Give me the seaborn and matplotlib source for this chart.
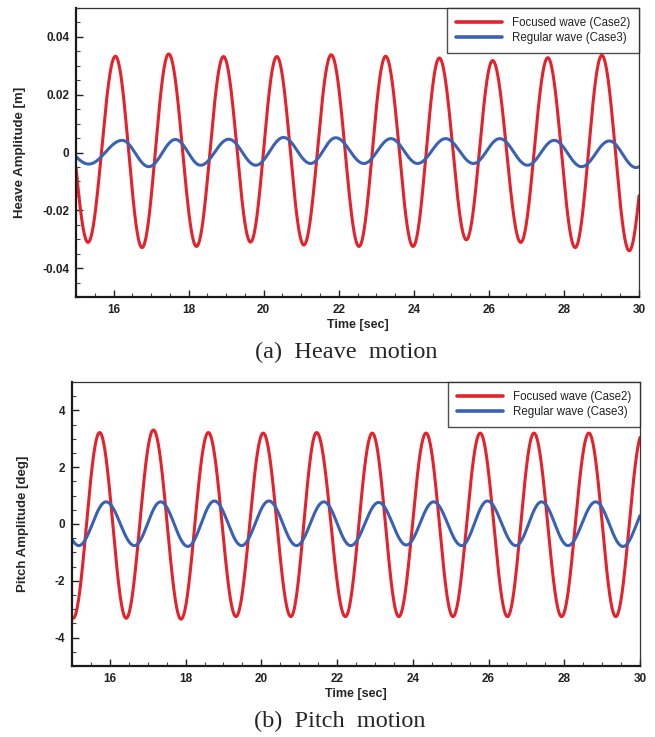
import numpy as np
import pandas as pd
import matplotlib
matplotlib.use("Agg")
import matplotlib.pyplot as plt
import seaborn as sns
from matplotlib.ticker import MultipleLocator, FuncFormatter

# ---------------- data: extrema ----------------
# Heave (a)
heave_focused_t = [15.32, 16.05, 16.76, 17.47, 18.21, 18.93, 19.65, 20.35, 21.07, 21.80,
                   22.54, 23.25, 23.98, 24.68, 25.40, 26.10, 26.85, 27.57, 28.30, 29.01, 29.74]
heave_focused_v = [-0.0311, 0.0333, -0.0329, 0.0341, -0.0325, 0.0332, -0.0310, 0.0332, -0.0320, 0.0338,
                   -0.0325, 0.0333, -0.0325, 0.0327, -0.0302, 0.0318, -0.0311, 0.0328, -0.0329, 0.0336, -0.0340]
heave_regular_t = [15.34, 16.23, 16.94, 17.65, 18.32, 19.07, 19.79, 20.53, 21.25, 21.92,
                   22.67, 23.39, 24.10, 24.85, 25.59, 26.29, 27.03, 27.74, 28.47, 29.21, 29.92]
heave_regular_v = [-0.0040, 0.0042, -0.0049, 0.0045, -0.0044, 0.0046, -0.0044, 0.0052, -0.0038, 0.0051,
                   -0.0038, 0.0048, -0.0038, 0.0048, -0.0038, 0.0048, -0.0044, 0.0042, -0.0049, 0.0040, -0.0052]

# Pitch (b)
pitch_focused_t = [15.73, 16.43, 17.15, 17.88, 18.60, 19.33, 20.05, 20.78, 21.46, 22.22,
                   22.93, 23.63, 24.35, 25.06, 25.78, 26.50, 27.20, 27.93, 28.65, 29.36]
pitch_focused_v = [3.22, -3.32, 3.31, -3.35, 3.22, -3.26, 3.20, -3.26, 3.22, -3.26,
                   3.20, -3.26, 3.20, -3.26, 3.20, -3.26, 3.20, -3.26, 3.20, -3.26]
pitch_regular_t = [15.18, 15.90, 16.65, 17.34, 18.06, 18.76, 19.48, 20.20, 20.93, 21.65,
                   22.36, 23.10, 23.83, 24.55, 25.29, 25.97, 26.72, 27.40, 28.10, 28.83, 29.55]
pitch_regular_v = [-0.76, 0.78, -0.76, 0.78, -0.79, 0.81, -0.76, 0.81, -0.76, 0.78,
                   -0.76, 0.76, -0.74, 0.78, -0.76, 0.81, -0.76, 0.78, -0.76, 0.78, -0.79]

series_names = ["Focused wave (Case2)", "Regular wave (Case3)"]
x_ticks = [16, 18, 20, 22, 24, 26, 28, 30]
heave_yticks = [-0.04, -0.02, 0, 0.02, 0.04]
pitch_yticks = [-4, -2, 0, 2, 4]
captions = ["(a)  Heave  motion", "(b)  Pitch  motion"]
ylabels = ["Heave Amplitude [m]", "Pitch Amplitude [deg]"]
xlabel = "Time [sec]"


def wave_curve(t_ext, v_ext, t_start=15.0, t_end=30.0, n=3001):
    """Render a smooth oscillation through the read extrema (half-cosine between peaks)."""
    te = np.asarray(t_ext, float)
    ve = np.asarray(v_ext, float)
    tt = np.linspace(t_start, t_end, n)
    idx = np.clip(np.searchsorted(te, tt) - 1, 0, len(te) - 2)
    h = te[idx + 1] - te[idx]
    c = 0.5 * (ve[idx] + ve[idx + 1])
    vv = c + (ve[idx] - c) * np.cos(np.pi * (tt - te[idx]) / h)
    return tt, vv


def build_df(ext_list):
    frames = []
    for name, (t_ext, v_ext) in zip(series_names, ext_list):
        tt, vv = wave_curve(t_ext, v_ext)
        frames.append(pd.DataFrame({"time": tt, "value": vv, "series": name}))
    return pd.concat(frames, ignore_index=True)


sns.set_theme(style="white")
plt.rcParams["font.family"] = ["Liberation Sans", "DejaVu Sans"]

palette = {series_names[0]: "#e4222c", series_names[1]: "#3a62b4"}

fig = plt.figure(figsize=(6.55, 7.37), dpi=100)
W, H = 655, 737
ax1 = fig.add_axes([76 / W, 1 - 297 / H, (639 - 76) / W, (297 - 8) / H])
ax2 = fig.add_axes([72 / W, 1 - 666 / H, (640 - 72) / W, (666 - 382) / H])

dfs = [
    build_df([(heave_focused_t, heave_focused_v), (heave_regular_t, heave_regular_v)]),
    build_df([(pitch_focused_t, pitch_focused_v), (pitch_regular_t, pitch_regular_v)]),
]

settings = [
    dict(ax=ax1, yticks=heave_yticks, ylim=(-0.05, 0.05), yminor=0.005,
         fmt=lambda v, p: "0" if abs(v) < 1e-12 else f"{v:.2f}"),
    dict(ax=ax2, yticks=pitch_yticks, ylim=(-5, 5), yminor=0.5,
         fmt=lambda v, p: f"{v:.0f}"),
]

for i, (df, s) in enumerate(zip(dfs, settings)):
    ax = s["ax"]
    sns.lineplot(data=df, x="time", y="value", hue="series", hue_order=series_names,
                 palette=palette, linewidth=2.2, ax=ax, estimator=None, sort=False)
    ax.set_xlim(15, 30)
    ax.set_ylim(*s["ylim"])
    ax.set_xticks(x_ticks)
    ax.set_yticks(s["yticks"])
    ax.xaxis.set_minor_locator(MultipleLocator(0.5))
    ax.yaxis.set_minor_locator(MultipleLocator(s["yminor"]))
    ax.yaxis.set_major_formatter(FuncFormatter(s["fmt"]))
    ax.tick_params(axis="both", which="major", direction="in", length=5, width=1.0,
                   labelsize=8.5, colors="#222222", pad=5,
                   top=False, right=False, bottom=True, left=True)
    ax.tick_params(axis="both", which="minor", direction="in", length=3, width=0.8,
                   color="#444444", top=False, right=False, bottom=True, left=True)
    for lab in ax.get_xticklabels() + ax.get_yticklabels():
        lab.set_fontweight("bold")
    for side in ["left", "bottom"]:
        ax.spines[side].set_linewidth(1.6)
        ax.spines[side].set_color("#1a1a1a")
    for side in ["top", "right"]:
        ax.spines[side].set_linewidth(0.9)
        ax.spines[side].set_color("#333333")
    ax.set_xlabel(xlabel, fontsize=9, fontweight="bold", labelpad=2)
    ax.set_ylabel(ylabels[i], fontsize=9.5, fontweight="bold", labelpad=8)
    handles, labels = ax.get_legend_handles_labels()
    for hdl in handles:
        hdl.set_linewidth(2.6)
    leg = ax.legend(handles, labels, loc="upper right", borderaxespad=0,
                    fancybox=False, frameon=True, fontsize=8.3, handlelength=4.0,
                    handletextpad=0.8, labelspacing=0.25, borderpad=0.8)
    leg.get_frame().set_edgecolor("#222222")
    leg.get_frame().set_linewidth(1.0)
    for txt in leg.get_texts():
        txt.set_color("#222222")

ax1.yaxis.set_label_coords(-0.088, 0.5)
ax2.yaxis.set_label_coords(-0.076, 0.5)

fig.text(346 / W, 1 - 352 / H, captions[0], ha="center", va="center",
         fontsize=17.5, family=["Liberation Serif", "DejaVu Serif"])
fig.text(340 / W, 1 - 721 / H, captions[1], ha="center", va="center",
         fontsize=17.5, family=["Liberation Serif", "DejaVu Serif"])

fig.savefig("out.png", dpi=100)
